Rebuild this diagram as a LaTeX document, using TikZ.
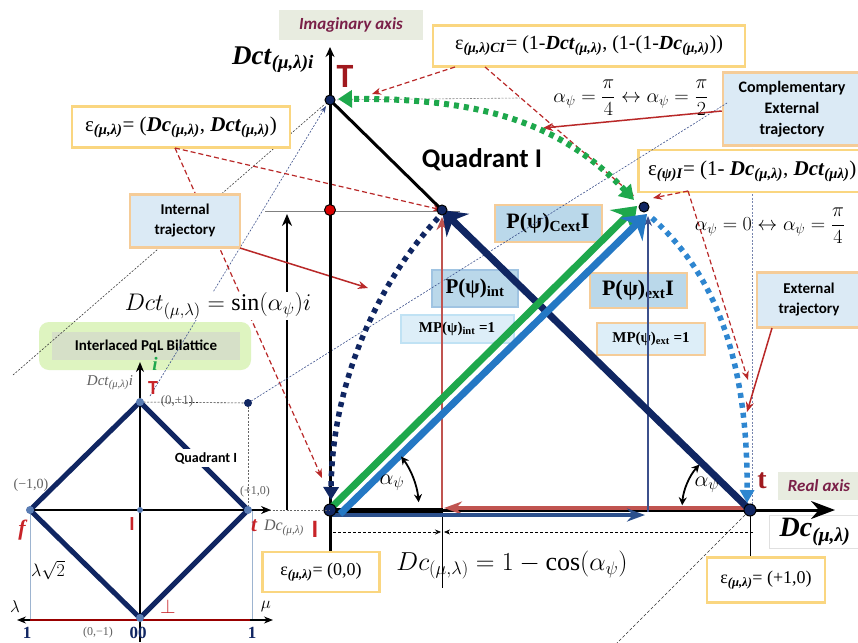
\RequirePackage{fix-cm}
\documentclass[tikz,border=0pt]{standalone}
\usepackage{fontspec}
\setmainfont{Liberation Serif}
\newfontfamily\cbri{Carlito}
\usetikzlibrary{arrows.meta,calc}
\newcommand\fsz[1]{\fontsize{#1}{#1}\selectfont}
\newcommand\sbs[1]{\textsubscript{#1}}
\newcommand\bi[1]{\textbf{\textit{#1}}}
\definecolor{navy}{RGB}{16,38,98}
\definecolor{grn}{RGB}{30,168,76}
\definecolor{blu}{RGB}{36,120,196}
\definecolor{dblu}{RGB}{44,80,140}
\definecolor{sal}{RGB}{192,84,80}
\definecolor{dred}{RGB}{185,40,40}
\definecolor{epsb}{RGB}{250,214,128}
\definecolor{bfill}{RGB}{219,234,245}
\definecolor{peach}{RGB}{245,204,152}
\definecolor{pfill}{RGB}{186,216,234}
\definecolor{pbord}{RGB}{160,196,226}
\definecolor{mfill}{RGB}{221,238,248}
\definecolor{mbord}{RGB}{192,226,244}
\definecolor{axbg}{RGB}{232,236,224}
\definecolor{axtx}{RGB}{122,32,72}
\definecolor{glow}{RGB}{222,244,192}
\definecolor{bilf}{RGB}{214,224,200}
\definecolor{gtx}{RGB}{95,95,95}
\definecolor{ltr}{RGB}{200,35,40}
\definecolor{dkr}{RGB}{160,25,30}
\definecolor{dotb}{RGB}{46,134,208}
\definecolor{thinb}{RGB}{60,80,140}
\definecolor{vline}{RGB}{157,180,208}
\definecolor{ptb}{RGB}{90,125,180}
\tikzset{
 epsbox/.style={draw=epsb, line width=2.5pt, fill=white, inner sep=0pt},
 bluebox/.style={draw=peach, line width=2.5pt, fill=bfill, inner sep=0pt, align=center, font=\cbri\bfseries\fontsize{15}{20}\selectfont},
 pbox/.style={draw=peach, line width=2pt, fill=pfill, inner sep=0pt},
 mbox/.style={draw=mbord, line width=2pt, fill=mfill, inner sep=0pt},
 axlab/.style={fill=axbg, inner sep=0pt, text=axtx, font=\cbri\bfseries\itshape\fsz{17}},
 reddash/.style={dred, line width=1.2pt, dash pattern=on 5pt off 3pt, -{Stealth[length=9pt,width=7pt]}},
 redarr/.style={dred, line width=1.5pt, -{Stealth[length=10pt,width=8pt]}},
 thindot/.style={line width=0.6pt, dash pattern=on 2pt off 1.5pt},
 bigtip/.style={-{Stealth[length=22pt,width=32pt,inset=7pt]}},
 traj/.style={line width=5.5pt, dash pattern=on 5pt off 5pt},
 dotpt/.style={circle, fill=navy, draw=black, line width=1pt, inner sep=0pt, minimum size=10pt},
 sdot/.style={circle, fill=ptb, inner sep=0pt, minimum size=8pt},
 gtext/.style={text=gtx, inner sep=0pt},
}
\begin{document}
\begin{tikzpicture}[x=1pt,y=-1pt]
\useasboundingbox (0,0) rectangle (858,642);
\fill[white] (0,0) rectangle (858,642);

% key points
\coordinate (T) at (330,100);
\coordinate (O) at (330,510);
\coordinate (tt) at (750,510);
\coordinate (Pi) at (442,210);
\coordinate (Pe) at (644,207);
\coordinate (R) at (330,210);
\coordinate (Xend) at (835,510);
\coordinate (Yend) at (330,47);
% small lattice
\coordinate (sT) at (140,402);
\coordinate (sF) at (30,510);
\coordinate (sR) at (248,510);
\coordinate (sB) at (140,618);
\coordinate (sQ) at (248,403);
\coordinate (sC) at (140,510);
% guide points
\coordinate (g1) at (13,375);
\coordinate (g1e) at (325,104);
\coordinate (g2) at (150,396);
\coordinate (g2e) at (326,106);
\coordinate (g3e) at (727,103);
\coordinate (g4) at (612,648);
\coordinate (g5) at (752,145);
\coordinate (g5e) at (752,510);
\coordinate (g6) at (265,211);
\coordinate (g6e) at (460,211);
\coordinate (g7e) at (520,98);

% bilattice label
\node[fill=glow, rounded corners=10pt, minimum width=212pt, minimum height=48pt, inner sep=0pt] (bilg) at (145,346) {};
\node[fill=bilf, minimum width=188pt, minimum height=28pt, inner sep=0pt, font=\cbri\bfseries\fsz{15}] (bil) at (146,346) {Interlaced PqL Bilattice};

% guide lines
\draw[thindot, black!75] (g1) -- (g1e);
\draw[thindot, thinb, -{Stealth[length=7pt,width=5pt]}] (g2) -- (g2e);
\draw[thindot, gray] (T) -- (g7e);
\draw[thindot, thinb!70] (g5) -- (g5e);
\draw[line width=0.6pt, black!80, dash pattern=on 3pt off 2pt] (g4) -- (tt);
\draw[line width=0.8pt, gray] (g6) -- (g6e);

% boxes
\node[epsbox, minimum width=218pt, minimum height=41pt] (epsA) at (181,127) {\fsz{21}ε\sbs{\bi{(μ,λ)}}= (\bi{Dc}\sbs{\bi{(μ,λ)}}, \bi{Dct}\sbs{\bi{(μ,λ)}})};
\node[epsbox, minimum width=312pt, minimum height=41pt] (epsCI) at (589,46) {\fsz{20}ε\sbs{\bi{(μ,λ)CI}}= (1-\bi{Dct}\sbs{\bi{(μ,λ)}}, (1-(1-\bi{Dc}\sbs{\bi{(μ,λ)}}))};
\node[epsbox, minimum width=228pt, minimum height=42pt, anchor=west] (epsPsi) at (637,171) {\fsz{21}ε\sbs{\bi{(ψ)I}}= (1- \bi{Dc}\sbs{\bi{(μ,λ)}}, \bi{Dct}\sbs{\bi{(μλ)}})};

% red dashed connectors
\draw[reddash] (175,148) -- (Pi);
\draw[reddash] (175,148) -- (322,478);
\draw[reddash] (455,67) -- (372,94);
\draw[reddash] (485,67) -- (634,196);
\draw[reddash] (688,191) -- (653,198);
\draw[reddash] (688,191) -- (748,380);

% sin arrow and formula
\draw[line width=2.5pt, -{Stealth[length=12pt,width=10pt]}] (287,510) -- (287,214);
\node[fill=white, inner sep=1pt] (fsin) at (218,306) {\fsz{24}$Dct_{\left(\mu,\lambda\right)}=\sin(\alpha_\psi)i$};

\node[bluebox, minimum width=110pt, minimum height=53pt] (intT) at (185,221) {Internal\\trajectory};
\node[bluebox, minimum width=138pt, minimum height=73pt, font=\cbri\bfseries\fontsize{16}{21}\selectfont] (comp) at (792,109) {Complementary\\External\\trajectory};
\node[bluebox, minimum width=104pt, minimum height=55pt] (extT) at (809,300) {External\\trajectory};
\node[pbox, minimum width=107pt, minimum height=37pt] (PCext) at (548,223) {\fsz{22}\textbf{P(ψ)\sbs{Cext}I}};
\node[pbox, draw=pbord, minimum width=86pt, minimum height=37pt] (Pint) at (475,288) {\fsz{21}\textbf{P(ψ)\sbs{int}}};
\node[pbox, minimum width=97pt, minimum height=35pt] (Pext) at (638,290) {\fsz{22}\textbf{P(ψ)\sbs{ext}I}};
\node[mbox, minimum width=113pt, minimum height=28pt] (MPint) at (457,329) {\fsz{15}\textbf{MP(ψ)\sbs{int} =1}};
\node[mbox, draw=peach, minimum width=108pt, minimum height=32pt] (MPext) at (651,339) {\fsz{15}\textbf{MP(ψ)\sbs{ext} =1}};

\draw[thindot, thinb] (sQ) -- (g3e);

% red solid arrows from boxes
\draw[redarr] (comp.west) ++(0,2) coordinate (c1) -- (543,128);
\draw[redarr] (772,328) -- (747,412);
\draw[redarr] (240,248) -- (368,288);

% eps boxes at bottom
\node[epsbox, minimum width=117pt, minimum height=40pt] (eps00) at (321,572) {\fsz{18}ε\sbs{\bi{(μ,λ)}}= (0,0)};
\node[epsbox, minimum width=118pt, minimum height=45pt] (eps10) at (766,580) {\fsz{18}ε\sbs{\bi{(μ,λ)}}= (+1,0)};
\node[draw=black!12, line width=0.8pt, fill=white, minimum width=92pt, minimum height=33pt, inner sep=0pt] (dcbr) at (815,532) {\fsz{28}\bi{Dc}\sbs{\bi{(μ,λ)}}};

% axes
\draw[line width=3pt, -{Stealth[length=10pt,width=9pt]}] (O |- eps00.north) -- (Yend);
\draw[line width=3pt, -{Stealth[length=24pt,width=18pt]}] (O) -- (Xend);
\draw[line width=5pt] (O) -- (443,510);
\draw[line width=0.8pt] (tt) -- (tt |- eps10.north);
\draw[line width=0.8pt] (442,510) -- (442,588);
\draw[line width=0.6pt, dash pattern=on 3pt off 2pt, -{Stealth[length=6pt,width=5pt]}] (333,532) -- (441,532);
\draw[line width=0.6pt, dash pattern=on 3pt off 2pt, -{Stealth[length=6pt,width=5pt]}] (753,532) -- (444,532);
\node[inner sep=0pt] (fcos) at (512,565) {\fsz{26}$Dc_{\left(\mu,\lambda\right)}=1-\cos(\alpha_\psi)$};

% component arrows
\draw[sal, line width=4.5pt, -{Stealth[length=18pt,width=13pt]}] (750,508) -- (444,508);
\draw[dblu, line width=4.5pt, -{Stealth[length=18pt,width=13pt]}] (332,515) -- (645,515);
\draw[sal, line width=2.5pt, -{Stealth[length=13pt,width=11pt]}] (442,508) -- (442,217);
\draw[thinb, line width=1.3pt, -{Stealth[length=10pt,width=8pt]}] (648,512) -- (648,216);
\draw[line width=3pt] (T) -- (Pi);
\draw[navy, line width=7pt, bigtip] (tt) -- (Pi);
\draw[grn, line width=7pt, bigtip] (331,508) -- (637,206);
\draw[blu, line width=7pt, bigtip] (340,514) -- (647,214);

% trajectories
\draw[navy, traj, -{Triangle[length=13pt,width=15pt]}] (438,218) .. controls (380,280) and (332,380) .. (331,500);
\draw[dotb, traj, -{Triangle[length=13pt,width=14pt]}] (652,218) .. controls (710,270) and (748,350) .. (747,503);
\draw[grn, line width=6pt, dash pattern=on 5pt off 5pt, {Triangle[length=14pt,width=17pt]}-{Triangle[length=14pt,width=17pt]}] (634,200) .. controls (560,122) and (480,98) .. (338,99);

% angle arcs
\draw[line width=1.8pt, {Stealth[length=8pt,width=8pt]}-{Stealth[length=8pt,width=8pt]}] ($(O)+(-37:89)$) arc[start angle=-37, end angle=-5, radius=89];
\draw[line width=1.8pt, {Stealth[length=8pt,width=8pt]}-{Stealth[length=8pt,width=8pt]}] ($(tt)+(222:68)$) arc[start angle=222, end angle=184, radius=68];
\node (a1) at (392,483) {\fsz{22}$\alpha_\psi$};
\node (a2) at (707,485) {\fsz{22}$\alpha_\psi$};

% points
\node[dotpt] (dT) at (T) {};
\node[dotpt] (dPi) at (Pi) {};
\node[dotpt] (dPe) at (Pe) {};
\node[dotpt, minimum size=12pt] (dO) at (O) {};
\node[dotpt, minimum size=12pt] (dt) at (tt) {};
\node[circle, fill=red!85!black, draw=black, line width=1pt, minimum size=11pt, inner sep=0pt] (dR) at (R) {};

% main labels
\node[axlab, minimum width=144pt, minimum height=30pt] (imag) at (351,25) {Imaginary axis};
\node[axlab, minimum width=82pt, minimum height=28pt] (real) at (819,486) {Real axis};
\node (dcti) at (273,60) {\fsz{27}\bi{Dct}\sbs{\bi{(μ,λ)i}}};
\node[text=dkr, font=\cbri\bfseries\fsz{34}] (bigT) at (345,76) {T};
\node[text=dkr, font=\bfseries\fsz{28}] (bigt) at (762,481) {t};
\node[font=\cbri\bfseries\fsz{27}] (quad) at (482,160) {Quadrant I};
\node (al1) at (631,98) {\fsz{20}$\alpha_\psi=\displaystyle\frac{\pi}{4}\leftrightarrow\alpha_\psi=\frac{\pi}{2}$};
\node (al2) at (770,226) {\fsz{20}$\alpha_\psi=0\leftrightarrow\alpha_\psi=\displaystyle\frac{\pi}{4}$};
\node[text=ltr, font=\cbri\bfseries\fsz{25}] (bigI) at (315,529) {I};

% small lattice
\draw[line width=0.8pt, vline] (sF) -- (30,620);
\draw[line width=0.8pt, vline] (252,510) -- (252,620);
\draw[thindot, black!80] (sT) -- (sQ);
\draw[thindot, black!60] (sQ) -- (sR);
\draw[thindot, black!60] (sR) -- (O);
\draw[line width=1.2pt, {Stealth[length=9pt,width=7pt]}-{Stealth[length=9pt,width=7pt]}] (17,620) -- (273,620);
\draw[line width=1.4pt, red!60!black] (30,620) -- (250,620);
\draw[line width=1.4pt, -{Stealth[length=10pt,width=8pt]}] (sF) -- (271,510);
\draw[line width=1.4pt, -{Stealth[length=10pt,width=8pt]}] (140,642) -- (140,362);
\draw[navy, line width=5pt, line cap=round] (sT) -- (sR) -- (sB) -- (sF) -- cycle;
\node[fill=white, inner sep=3pt, font=\cbri\bfseries\fsz{14}] (squad) at (206,458) {Quadrant I};
\node[sdot] (dsT) at (sT) {};
\node[sdot] (dsF) at (sF) {};
\node[sdot] (dsR) at (sR) {};
\node[sdot] (dsB) at (sB) {};
\node[sdot, fill=navy] (dsQ) at (sQ) {};
\node[sdot, minimum size=6pt] (dsC) at (sC) {};

\node[gtext] (l1) at (110,383) {\fsz{15}\textit{Dct}\sbs{\textit{(μ,λ)}}\textit{i}};
\node[text=grn, font=\bfseries\itshape\fsz{19}] (li) at (155,364) {i};
\node[text=ltr, font=\cbri\bfseries\fsz{20}] (sTl) at (153,388) {T};
\node[gtext] (l01) at (177,401) {\fsz{13}(0,+1)};
\node[gtext] (lm10) at (31,485) {\fsz{14}(−1,0)};
\node[gtext] (lp10) at (255,492) {\fsz{12}(+1,0)};
\node[text=ltr, font=\bfseries\itshape\fsz{22}] (lf) at (22,530) {f};
\node[text=ltr, font=\bfseries\itshape\fsz{21}] (lt) at (254,526) {t};
\node[gtext] (ldc) at (284,528) {\fsz{16}\textit{Dc}\sbs{\textit{(μ,λ)}}};
\node[text=ltr, font=\cbri\bfseries\fsz{20}] (sI) at (132,524) {I};
\node (lsq) at (48,570) {\fsz{18}$\lambda\sqrt{2}$};
\node (llam) at (15,607) {\fsz{17}$\lambda$};
\node (lmu) at (266,606) {\fsz{17}$\mu$};
\node[text=ltr] (lbot) at (168,607) {\fsz{20}$\perp$};
\node[text=navy, font=\bfseries\fsz{17}] (n1a) at (27,633) {1};
\node[text=navy, font=\bfseries\fsz{17}] (n1b) at (252,633) {1};
\node[text=navy, font=\bfseries\fsz{17}] (n00) at (138,633) {00};
\node[gtext] (l0m1) at (98,633) {\fsz{12}(0,−1)};
\end{tikzpicture}
\end{document}
